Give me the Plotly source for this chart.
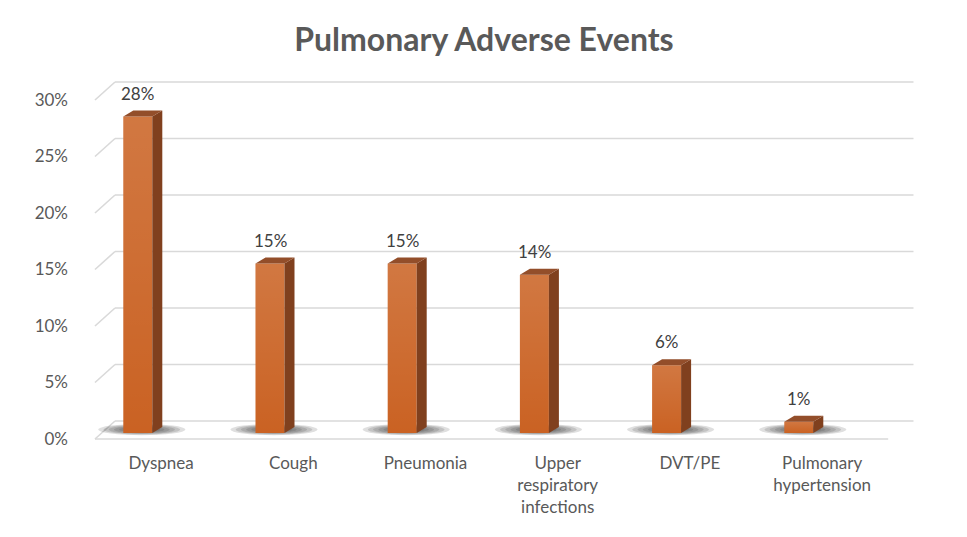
import plotly.graph_objects as go

categories = ["Dyspnea", "Cough", "Pneumonia", "Upper<br>respiratory<br>infections",
              "DVT/PE", "Pulmonary<br>hypertension"]
values = [28, 15, 15, 14, 6, 1]
tick_values = [0, 5, 10, 15, 20, 25, 30]
tick_labels = ["0%", "5%", "10%", "15%", "20%", "25%", "30%"]

FONT = "Lato"
GRID = "#d9d9d9"

# page puts the figure 8px in from the corner
PAGE = 8
W, H = 967 - PAGE, 537 - PAGE

# pixel geometry of the fake 3d box, in figure px (bar plane is the data plane)
PX_X = 132.2   # px per category
PX_Y = 11.3    # px per percent
L, R, T, B = 93 - PAGE, 915 - PAGE, 76 - PAGE, 441 - PAGE
X0, Y0 = 101.7 - PAGE, 433 - PAGE  # bar plane: category -0.5 / 0%

FRONT_DX, FRONT_DY = -6.7 / PX_X, -6 / PX_Y
BACK_DX, BACK_DY = 13.3 / PX_X, 12 / PX_Y
BAR_OFF, BAR_W = -30 / PX_X, 29 / PX_X
DEPTH_X, DEPTH_Y = 10 / PX_X, 6 / PX_Y

n = len(categories)
xs = list(range(n))
bar_x = [i + BAR_OFF for i in xs]

fig = go.Figure()

# back wall gridlines, side wall diagonals and front floor edge (under the bars)
line = dict(color=GRID, width=1.6)
for v in tick_values:
    fig.add_shape(type="line", xref="x", yref="y", layer="below", line=line,
                  x0=-0.5 + BACK_DX, x1=n - 0.5 + BACK_DX + 0.04, y0=v + BACK_DY, y1=v + BACK_DY)
    fig.add_shape(type="line", xref="x", yref="y", layer="below", line=line,
                  x0=-0.5 + FRONT_DX, x1=-0.5 + BACK_DX, y0=v + FRONT_DY, y1=v + BACK_DY)
fig.add_shape(type="line", xref="x", yref="y", layer="below", line=line,
              x0=-0.5 + FRONT_DX, x1=n - 0.5 + FRONT_DX, y0=FRONT_DY, y1=FRONT_DY)

# soft shadows on the floor: stacked faint ellipses
for cx in bar_x:
    c = cx + 4 / PX_X
    for k in [1.0, 0.88, 0.76, 0.64, 0.52, 0.42]:
        hw, hh = 0.33 * k, 0.5 * k
        fig.add_shape(type="circle", xref="x", yref="y", layer="below",
                      x0=c - hw, x1=c + hw, y0=0.3 - hh, y1=0.3 + hh,
                      fillcolor="#262626", opacity=0.15, line_width=0)

# front faces
fig.add_trace(go.Bar(x=bar_x, y=values, width=BAR_W, marker=dict(color="#ca6223", line_width=0),
                     hoverinfo="skip", showlegend=False))

# light sheen towards the top of each front face
for cx, v in zip(bar_x, values):
    xl, xr = cx - BAR_W / 2, cx + BAR_W / 2
    fig.add_trace(go.Scatter(x=[xl, xr, xr, xl, xl], y=[0, 0, v, v, 0], mode="lines",
                             fill="toself", line=dict(width=0),
                             fillgradient=dict(type="vertical",
                                               colorscale=[[0, "rgba(255,255,255,0)"],
                                                           [1, "rgba(255,255,255,0.14)"]]),
                             hoverinfo="skip", showlegend=False))

# side and top faces
sx, sy, tx, ty = [], [], [], []
for cx, v in zip(bar_x, values):
    xl, xr = cx - BAR_W / 2, cx + BAR_W / 2
    sx += [xr, xr + DEPTH_X, xr + DEPTH_X, xr, xr, None]
    sy += [0, DEPTH_Y, v + DEPTH_Y, v, 0, None]
    tx += [xl, xr, xr + DEPTH_X, xl + DEPTH_X, xl, None]
    ty += [v, v, v + DEPTH_Y, v + DEPTH_Y, v, None]
fig.add_trace(go.Scatter(x=sx, y=sy, mode="lines", fill="toself", fillcolor="#80401e",
                         line=dict(width=0, color="#80401e"), hoverinfo="skip", showlegend=False))
fig.add_trace(go.Scatter(x=tx, y=ty, mode="lines", fill="toself", fillcolor="#934e2a",
                         line=dict(width=0, color="#934e2a"), hoverinfo="skip", showlegend=False))

for cx, v in zip(bar_x, values):
    fig.add_annotation(x=cx, y=v, text=f"{v}%", showarrow=False, yanchor="bottom", yshift=11,
                       font=dict(family=FONT, size=17, color="#404040"))

fig.update_layout(
    width=W, height=H,
    paper_bgcolor="white", plot_bgcolor="white",
    margin=dict(l=L, r=W - R, t=T, b=H - B),
    title=dict(text="<b>Pulmonary Adverse Events</b>", x=(484 - PAGE) / W, xanchor="center",
               y=1 - (40 - PAGE) / H, yanchor="middle",
               font=dict(family=FONT, size=32, color="#595959")),
    xaxis=dict(range=[-0.5 + (L - X0) / PX_X, -0.5 + (R - X0) / PX_X],
               tickvals=[i + FRONT_DX for i in xs], ticktext=categories,
               showgrid=False, zeroline=False, showline=False, ticks="", automargin=False,
               ticklabelstandoff=10,
               tickfont=dict(family=FONT, size=17, color="#595959")),
    yaxis=dict(range=[(Y0 - B) / PX_Y, (Y0 - T) / PX_Y],
               tickvals=[v + FRONT_DY for v in tick_values], ticktext=tick_labels,
               showgrid=False, zeroline=False, showline=False, ticks="", automargin=False,
               ticklabelstandoff=24,
               tickfont=dict(family=FONT, size=17, color="#595959")),
    font=dict(family=FONT),
)

fig.write_html("out.html")
